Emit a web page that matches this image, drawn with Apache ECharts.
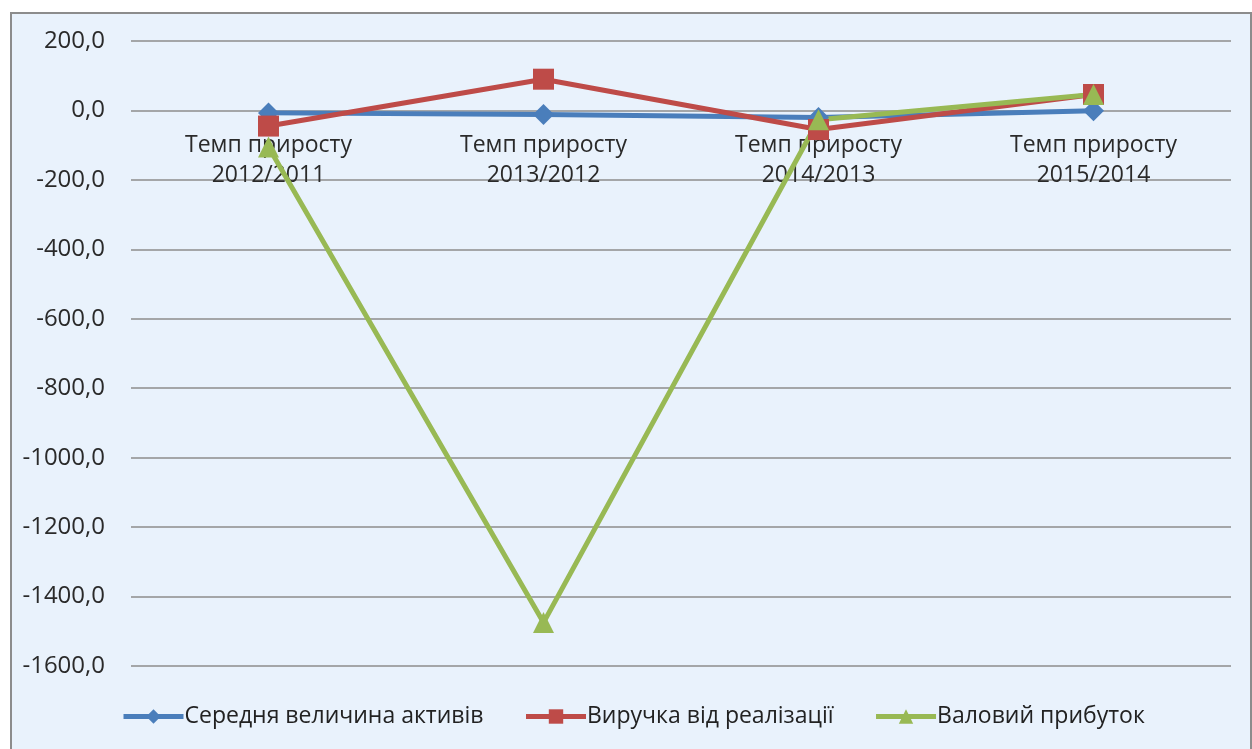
<html>
<head>
<meta charset="utf-8">
<script src="https://cdn.jsdelivr.net/npm/echarts@6/dist/echarts.min.js"></script>
<style>
  body { margin: 0; background: #fff; }
  #frame { position: absolute; left: 10px; top: 12px; width: 1238px; height: 745px;
           border: 2px solid #8c8c8c; background: #e9f2fc; }
  #main { position: absolute; left: 0; top: 0; width: 1252px; height: 749px; }
</style>
</head>
<body>
<div id="frame"></div>
<div id="main"></div>
<script type="text/javascript">
  // categories and series
  var categories = ['Темп приросту\n2012/2011', 'Темп приросту\n2013/2012', 'Темп приросту\n2014/2013', 'Темп приросту\n2015/2014'];
  var assets = [-7, -12, -20, -1];          // Середня величина активів
  var revenue = [-45, 90, -55, 46];         // Виручка від реалізації
  var grossProfit = [-105, -1475, -27, 46]; // Валовий прибуток

  var yMin = -1600, yMax = 200;
  var gridTop = 41, gridBottom = 83;

  var myChart = echarts.init(document.getElementById('main'));

  // the category axis sits on the zero line: shift it down from the top edge
  var plotH = 749 - gridTop - gridBottom;
  var zeroOffset = -plotH * yMax / (yMax - yMin);

  function mkSeries(name, data, color, symbol, size) {
    return {
      name: name, type: 'line', data: data,
      symbol: symbol, symbolSize: size,
      lineStyle: { width: 5, color: color },
      itemStyle: { color: color },
      emphasis: { disabled: true }
    };
  }

  var font = 'Open Sans, sans-serif';

  myChart.setOption({
    backgroundColor: 'transparent',
    animation: false,
    grid: { left: 131, right: 21, top: gridTop, bottom: gridBottom },
    legend: {
      bottom: 16,
      left: 116,
      itemWidth: 60,
      itemHeight: 18,
      itemGap: 40,
      lineStyle: { width: 5 },
      textStyle: { fontSize: 23, color: '#222', fontFamily: font, padding: [0, 0, 0, -4] },
      data: ['Середня величина активів', 'Виручка від реалізації', 'Валовий прибуток']
    },
    xAxis: {
      type: 'category',
      position: 'top',
      offset: zeroOffset,
      data: categories,
      boundaryGap: true,
      axisLine: { show: false },
      axisTick: { show: false },
      axisLabel: { inside: true, fontSize: 23, color: '#2a2a2a', lineHeight: 30, margin: 20, fontFamily: font }
    },
    yAxis: {
      type: 'value',
      min: yMin, max: yMax, interval: 200,
      axisLine: { show: false },
      axisTick: { show: false },
      axisLabel: {
        fontSize: 24, color: '#2a2a2a', margin: 26, fontFamily: font,
        formatter: function (v) { return v.toFixed(1).replace('.', ','); }
      },
      splitLine: { lineStyle: { color: '#8c8c8c', width: 1.5 } }
    },
    series: [
      mkSeries('Середня величина активів', assets, '#4a7ebb', 'diamond', 21),
      mkSeries('Виручка від реалізації', revenue, '#be4b48', 'rect', 21),
      mkSeries('Валовий прибуток', grossProfit, '#98b954', 'triangle', 21)
    ]
  });
</script>
</body>
</html>
